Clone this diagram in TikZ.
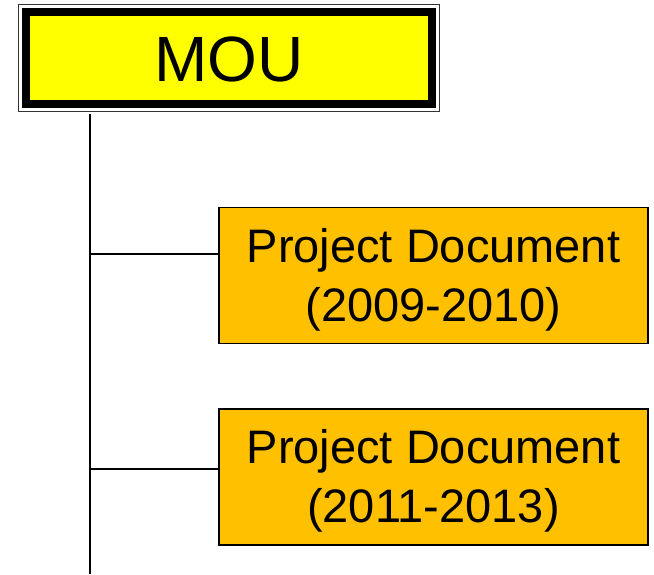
\documentclass[tikz,border=0pt]{standalone}
\usepackage{fontspec}
\setmainfont{Liberation Sans}
\definecolor{mouyellow}{HTML}{FFFF00}
\definecolor{docorange}{HTML}{FFC000}
\newcommand{\dn}[2]{\raisebox{-#1}[\height][\depth]{#2}}
\begin{document}
\begin{tikzpicture}[x=1pt,y=-1pt,
  docbox/.style={draw=black, line width=1.2pt, fill=docorange, minimum width=429pt, minimum height=136pt, inner sep=0pt, align=center, font=\fontsize{47}{59}\selectfont},
  conn/.style={draw=black, line width=1.2pt}]
\useasboundingbox (0,0) rectangle (654,574);
% MOU box
\draw[line width=1.3pt, draw=black!80] (18.5,4.5) rectangle (439.5,111.5);
\node[draw=black, line width=8pt, fill=mouyellow, minimum width=406pt, minimum height=92.5pt, inner sep=0pt, font=\fontsize{64}{64}\selectfont] (mou) at (229,57.75) {\dn{2pt}{MOU}};
% docs
\node[docbox] (d1) at (433.5,275.5) {\dn{4pt}{Project Document}\\\dn{4pt}{(2009-2010)}};
\node[docbox] (d2) at (433.5,477) {\dn{4pt}{Project Document}\\\dn{4pt}{(2011-2013)}};
% connectors
\coordinate (top) at (90,114);
\coordinate (bot) at (90,574);
\coordinate (j1) at (90,254);
\coordinate (j2) at (90,469);
\draw[conn] (top) -- (bot);
\draw[conn] (j1) -- (j1 -| d1.west);
\draw[conn] (j2) -- (j2 -| d2.west);
\end{tikzpicture}
\end{document}
